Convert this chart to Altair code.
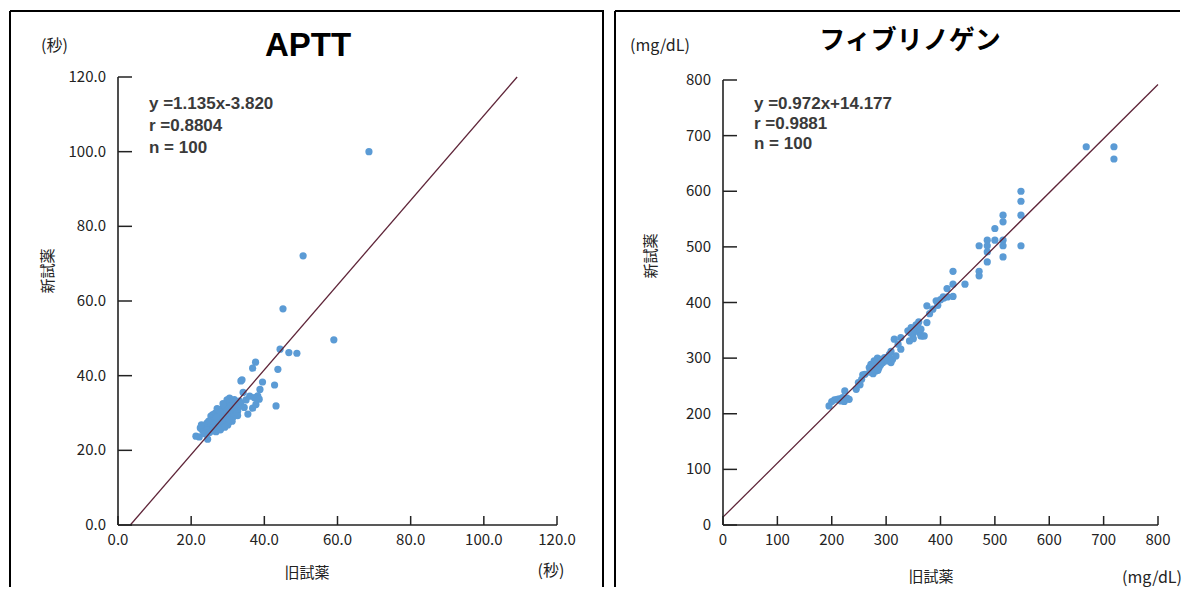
import altair as alt
import pandas as pd

# ---------------- data ----------------
aptt_old = [68.6, 50.6, 45.1, 59.0, 44.3, 46.7, 48.9, 43.7, 37.6, 36.8,
            33.9, 33.6, 39.5, 42.8, 38.8, 35.5, 36.8, 30.5, 31.8, 32.7,
            33.2, 38.2, 37.3, 38.6, 37.7, 43.2,
            21.3, 22.2, 24.5, 22.5, 23.0, 23.6, 24.0, 22.8, 25.0, 25.5,
            25.4, 25.9, 26.0, 26.5, 26.3, 27.0, 27.2, 27.5, 27.8, 28.0,
            28.2, 28.5, 28.8, 29.0, 29.0, 29.3, 29.5, 29.7, 30.0, 30.0,
            30.2, 30.5, 30.8, 31.0, 31.3, 31.5, 32.0, 32.3, 32.5, 33.0,
            26.8, 25.8, 24.3, 26.6, 27.3, 28.3, 29.8, 30.6, 31.8, 33.5,
            34.5, 35.0, 34.2, 36.0, 28.0, 29.2, 30.3, 23.5, 24.8, 26.1,
            27.6, 29.5, 30.9, 31.2, 32.7, 28.7, 27.1,
            25.6, 27.9, 29.9, 26.9, 28.9, 30.4, 32.2]
aptt_new = [100.0, 72.1, 57.9, 49.6, 47.1, 46.2, 46.0, 41.7, 43.6, 42.0,
            38.9, 38.6, 38.3, 37.5, 36.3, 29.7, 31.3, 34.0, 33.6, 30.5,
            33.2, 34.6, 34.1, 33.7, 32.3, 31.9,
            23.8, 23.6, 23.0, 26.0, 25.5, 25.6, 26.4, 26.8, 24.8, 26.0,
            29.2, 29.6, 27.0, 26.5, 28.0, 27.5, 26.2, 28.5, 27.0, 29.0,
            26.0, 28.0, 30.0, 27.2, 31.0, 29.0, 28.0, 32.0, 30.5, 26.8,
            29.5, 31.5, 28.5, 30.0, 32.5, 29.0, 31.0, 33.0, 30.0, 31.8,
            25.0, 27.8, 27.3, 30.0, 29.8, 31.0, 33.5, 33.0, 31.5, 32.5,
            31.5, 33.5, 35.5, 34.5, 25.5, 26.2, 27.5, 24.5, 27.8, 26.1,
            30.6, 30.3, 31.9, 27.8, 29.3, 32.5, 31.2,
            25.2, 30.2, 29.2, 28.8, 28.6, 28.2, 32.2]

fib_old = [195, 200, 205, 210, 214, 217, 220, 223, 224, 228, 232,
           245, 249, 252, 257, 261, 255,
           269, 272, 278, 284, 290, 287, 278, 281, 287, 297, 294, 270, 275, 280, 283, 276, 290, 285,
           306, 309, 303, 312, 309, 318, 300, 305,
           315, 327, 327, 322,
           340, 346, 352, 358, 364, 367, 343, 349, 361, 375, 364, 355, 350, 345, 360, 370,
           375, 386, 392, 400, 406, 413, 412, 423, 423, 423, 445, 380, 395, 405,
           471, 471, 486, 486, 486, 471, 515, 548, 486, 500, 515, 500, 515, 515, 548, 548, 548, 515,
           668, 719, 719, 290, 350]
fib_new = [214, 222, 225, 226, 227, 223, 229, 222, 241, 228, 226,
           244, 256, 252, 270, 271, 262,
           283, 289, 295, 300, 298, 292, 280, 277, 283, 301, 292, 275, 285, 290, 295, 272, 288, 278,
           307, 312, 295, 298, 292, 304, 300, 300,
           334, 337, 316, 325,
           349, 355, 352, 358, 352, 340, 331, 343, 346, 364, 340, 360, 335, 345, 365, 340,
           394, 388, 403, 405, 408, 410, 425, 411, 433, 456, 433, 380, 395, 410,
           456, 448, 491, 473, 502, 502, 502, 502, 512, 512, 512, 533, 545, 557, 557, 582, 600, 482,
           680, 680, 658, 295, 348]

aptt_ticks = [0, 20, 40, 60, 80, 100, 120]
fib_ticks = [0, 100, 200, 300, 400, 500, 600, 700, 800]

aptt_fit = (1.135, -3.820)
fib_fit = (0.972, 14.177)
aptt_line_x = [3.366, 109.1]
fib_line_x = [0, 800]

aptt_eq = ["y =1.135x-3.820", "r =0.8804", "n = 100"]
fib_eq = ["y =0.972x+14.177", "r =0.9881", "n = 100"]

# ---------------- styling ----------------
FONT = "Noto Sans CJK JP"
LATIN = "Liberation Sans"
AXIS_C = "#222222"
PT_C = "#5B9BD5"
LINE_C = "#5E2438"
H = 574


def one():
    return alt.Chart(pd.DataFrame({"a": [0]}))


def panel(xs, ys, fit, line_x, ticks, fmt, xrange, yrange, W, title, unit,
          eq, eq_step, title_pos, title_font, title_size, unit_top_x,
          ytitle_pos, xtitle_pos, unit_bottom_pos, right_edge):
    dom = [ticks[0], ticks[-1]]
    xs_scale = alt.Scale(domain=dom, range=xrange, nice=False, zero=False)
    ys_scale = alt.Scale(domain=dom, range=yrange, nice=False, zero=False)

    df = pd.DataFrame({"old": xs, "new": ys})
    points = alt.Chart(df).mark_circle(size=52, color=PT_C, opacity=1).encode(
        x=alt.X("old:Q", scale=xs_scale, axis=None),
        y=alt.Y("new:Q", scale=ys_scale, axis=None),
    )

    ldf = pd.DataFrame({"old": line_x, "new": [fit[0] * v + fit[1] for v in line_x]})
    line = alt.Chart(ldf).mark_line(color=LINE_C, strokeWidth=1.3).encode(
        x=alt.X("old:Q", scale=xs_scale, axis=None),
        y=alt.Y("new:Q", scale=ys_scale, axis=None),
    )

    # axis lines
    ddf = pd.DataFrame({"a": [dom[0]], "b": [dom[1]]})
    xdomain = alt.Chart(ddf).mark_rule(color=AXIS_C, strokeWidth=1.6).encode(
        x=alt.X("a:Q", scale=xs_scale, axis=None), x2="b:Q", y=alt.value(yrange[0]))
    ydomain = alt.Chart(ddf).mark_rule(color=AXIS_C, strokeWidth=1.6).encode(
        y=alt.Y("a:Q", scale=ys_scale, axis=None), y2="b:Q", x=alt.value(xrange[0]))

    # inward ticks and tick labels
    tdf = pd.DataFrame({"v": ticks})
    yt = alt.Chart(tdf).mark_rule(color=AXIS_C, strokeWidth=1.5).encode(
        y=alt.Y("v:Q", scale=ys_scale, axis=None),
        x=alt.value(xrange[0]), x2=alt.value(xrange[0] + 14))
    xt = alt.Chart(tdf).mark_rule(color=AXIS_C, strokeWidth=1.5).encode(
        x=alt.X("v:Q", scale=xs_scale, axis=None),
        y=alt.value(yrange[0]), y2=alt.value(yrange[0] - 9))
    ylab = alt.Chart(tdf).mark_text(font=FONT, fontSize=15, color=AXIS_C, align="right",
                                    baseline="middle").encode(
        y=alt.Y("v:Q", scale=ys_scale, axis=None), x=alt.value(xrange[0] - 12),
        text=alt.Text("v:Q", format=fmt))
    xlab = alt.Chart(tdf).mark_text(font=FONT, fontSize=15, color=AXIS_C, align="center",
                                    baseline="middle").encode(
        x=alt.X("v:Q", scale=xs_scale, axis=None), y=alt.value(yrange[0] + 15),
        text=alt.Text("v:Q", format=fmt))

    layers = [points, line, xdomain, ydomain, yt, xt, ylab, xlab]

    layers.append(one().mark_text(text=title, font=title_font, fontSize=title_size,
                                  fontWeight="bold", color="#000", align="center",
                                  baseline="middle").encode(
        x=alt.value(title_pos[0]), y=alt.value(title_pos[1])))
    layers.append(one().mark_text(text=unit, font=FONT, fontSize=16, color=AXIS_C,
                                  align="left", baseline="middle").encode(
        x=alt.value(unit_top_x), y=alt.value(35)))
    layers.append(one().mark_text(text="新試薬", font=FONT, fontSize=15, color=AXIS_C,
                                  align="center", baseline="middle", angle=270).encode(
        x=alt.value(ytitle_pos[0]), y=alt.value(ytitle_pos[1])))
    layers.append(one().mark_text(text="旧試薬", font=FONT, fontSize=15, color=AXIS_C,
                                  align="center", baseline="middle").encode(
        x=alt.value(xtitle_pos[0]), y=alt.value(xtitle_pos[1])))
    layers.append(one().mark_text(text=unit, font=FONT, fontSize=16, color=AXIS_C,
                                  align="center", baseline="middle").encode(
        x=alt.value(unit_bottom_pos[0]), y=alt.value(unit_bottom_pos[1])))
    for i, t in enumerate(eq):
        layers.append(one().mark_text(text=t, font=LATIN, fontSize=17, fontWeight="bold",
                                      color="#3a3a3a", align="left", baseline="middle").encode(
            x=alt.value(xrange[0] + 31), y=alt.value(93 + i * eq_step)))

    # panel frame (left / top / right edges)
    layers.append(one().mark_rule(color="#000", strokeWidth=2).encode(
        x=alt.value(0), y=alt.value(0), y2=alt.value(H + 2)))
    layers.append(one().mark_rule(color="#000", strokeWidth=2).encode(
        x=alt.value(0), x2=alt.value(W), y=alt.value(0)))
    if right_edge:
        layers.append(one().mark_rule(color="#000", strokeWidth=2).encode(
            x=alt.value(W - 1), y=alt.value(0), y2=alt.value(H + 2)))

    return alt.layer(*layers).properties(width=W, height=H)


W1, W2 = 594, 565
left = panel(aptt_old, aptt_new, aptt_fit, aptt_line_x, aptt_ticks, ".1f",
             [108, 547], [514, 66], W1, "APTT", "(秒)", aptt_eq, 22,
             (298, 35), LATIN, 33, 31, (38, 260), (297, 562), (541, 560), True)
right = panel(fib_old, fib_new, fib_fit, fib_line_x, fib_ticks, "d",
              [108, 543], [514, 69], W2, "フィブリノゲン", "(mg/dL)", fib_eq, 20,
              (295, 30), FONT, 26, 15, (36, 245), (316, 566), (537, 567), False)

chart = alt.hconcat(left, right, spacing=9).properties(
    padding={"left": 1, "top": 2, "right": 1, "bottom": 0}
).configure_view(strokeWidth=0)

chart.save("out.html", embed_options={"renderer": "svg", "actions": False})
